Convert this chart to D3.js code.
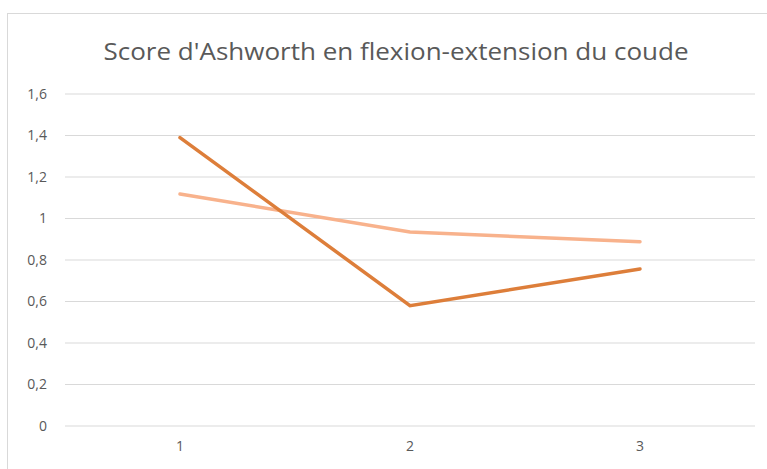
<!DOCTYPE html>
<html>
<head>
<meta charset="utf-8">
<script src="https://cdn.jsdelivr.net/npm/d3@7"></script>
<style>
  body { margin: 0; background: #fff; }
  text { font-family: "Open Sans", "Noto Sans", sans-serif; fill: #595959; }
</style>
</head>
<body>
<div id="chart"></div>
<script>
// data
const categories = ["1", "2", "3"];
const seriesA = [1.39, 0.58, 0.757];   // dark orange
const seriesB = [1.118, 0.935, 0.888]; // light orange
const yTicks = [0, 0.2, 0.4, 0.6, 0.8, 1, 1.2, 1.4, 1.6];

const W = 767, H = 469;
const margin = {top: 94, right: 12, bottom: 43, left: 65},
      width = W - margin.left - margin.right,
      height = H - margin.top - margin.bottom;

const root = d3.select("#chart")
  .append("svg")
    .attr("width", W)
    .attr("height", H);

// chart frame
root.append("rect")
    .attr("x", 7.5).attr("y", 13.5)
    .attr("width", W + 5).attr("height", H + 5)
    .attr("fill", "#fff")
    .attr("stroke", "#d9d9d9");

root.append("text")
    .attr("x", 396)
    .attr("y", 60)
    .attr("text-anchor", "middle")
    .attr("textLength", 585)
    .attr("lengthAdjust", "spacingAndGlyphs")
    .style("font-size", "24px")
    .text("Score d'Ashworth en flexion-extension du coude");

const svg = root.append("g")
    .attr("transform", `translate(${margin.left},${margin.top})`);

const x = d3.scaleBand()
    .domain(categories)
    .range([0, width]);

const y = d3.scaleLinear()
    .domain([0, 1.6])
    .range([height, 0]);

// gridlines
svg.append("g")
  .selectAll("line")
  .data(yTicks)
  .join("line")
    .attr("x1", 0).attr("x2", width)
    .attr("y1", d => y(d)).attr("y2", d => y(d))
    .attr("stroke", "#d9d9d9")
    .attr("stroke-width", 1);

const fmt = d => String(d).replace(".", ",");

const yAxis = svg.append("g")
    .call(d3.axisLeft(y).tickValues(yTicks).tickFormat(fmt).tickSize(0).tickPadding(18));
yAxis.select(".domain").remove();
yAxis.selectAll("text").style("font-size", "14px").attr("font-family", null);

const xAxis = svg.append("g")
    .attr("transform", `translate(0,${height})`)
    .call(d3.axisBottom(x).tickSize(0).tickPadding(15));
xAxis.select(".domain").remove();
xAxis.selectAll("text").style("font-size", "14px").attr("font-family", null);

const line = d3.line()
    .x((d, i) => x(categories[i]) + x.bandwidth() / 2)
    .y(d => y(d));

svg.append("path")
    .datum(seriesB)
    .attr("fill", "none")
    .attr("stroke", "#f8b28c")
    .attr("stroke-width", 3.5)
    .attr("stroke-linecap", "round")
    .attr("d", line);

svg.append("path")
    .datum(seriesA)
    .attr("fill", "none")
    .attr("stroke", "#dd7e3a")
    .attr("stroke-width", 3.5)
    .attr("stroke-linecap", "round")
    .attr("d", line);
</script>
</body>
</html>
